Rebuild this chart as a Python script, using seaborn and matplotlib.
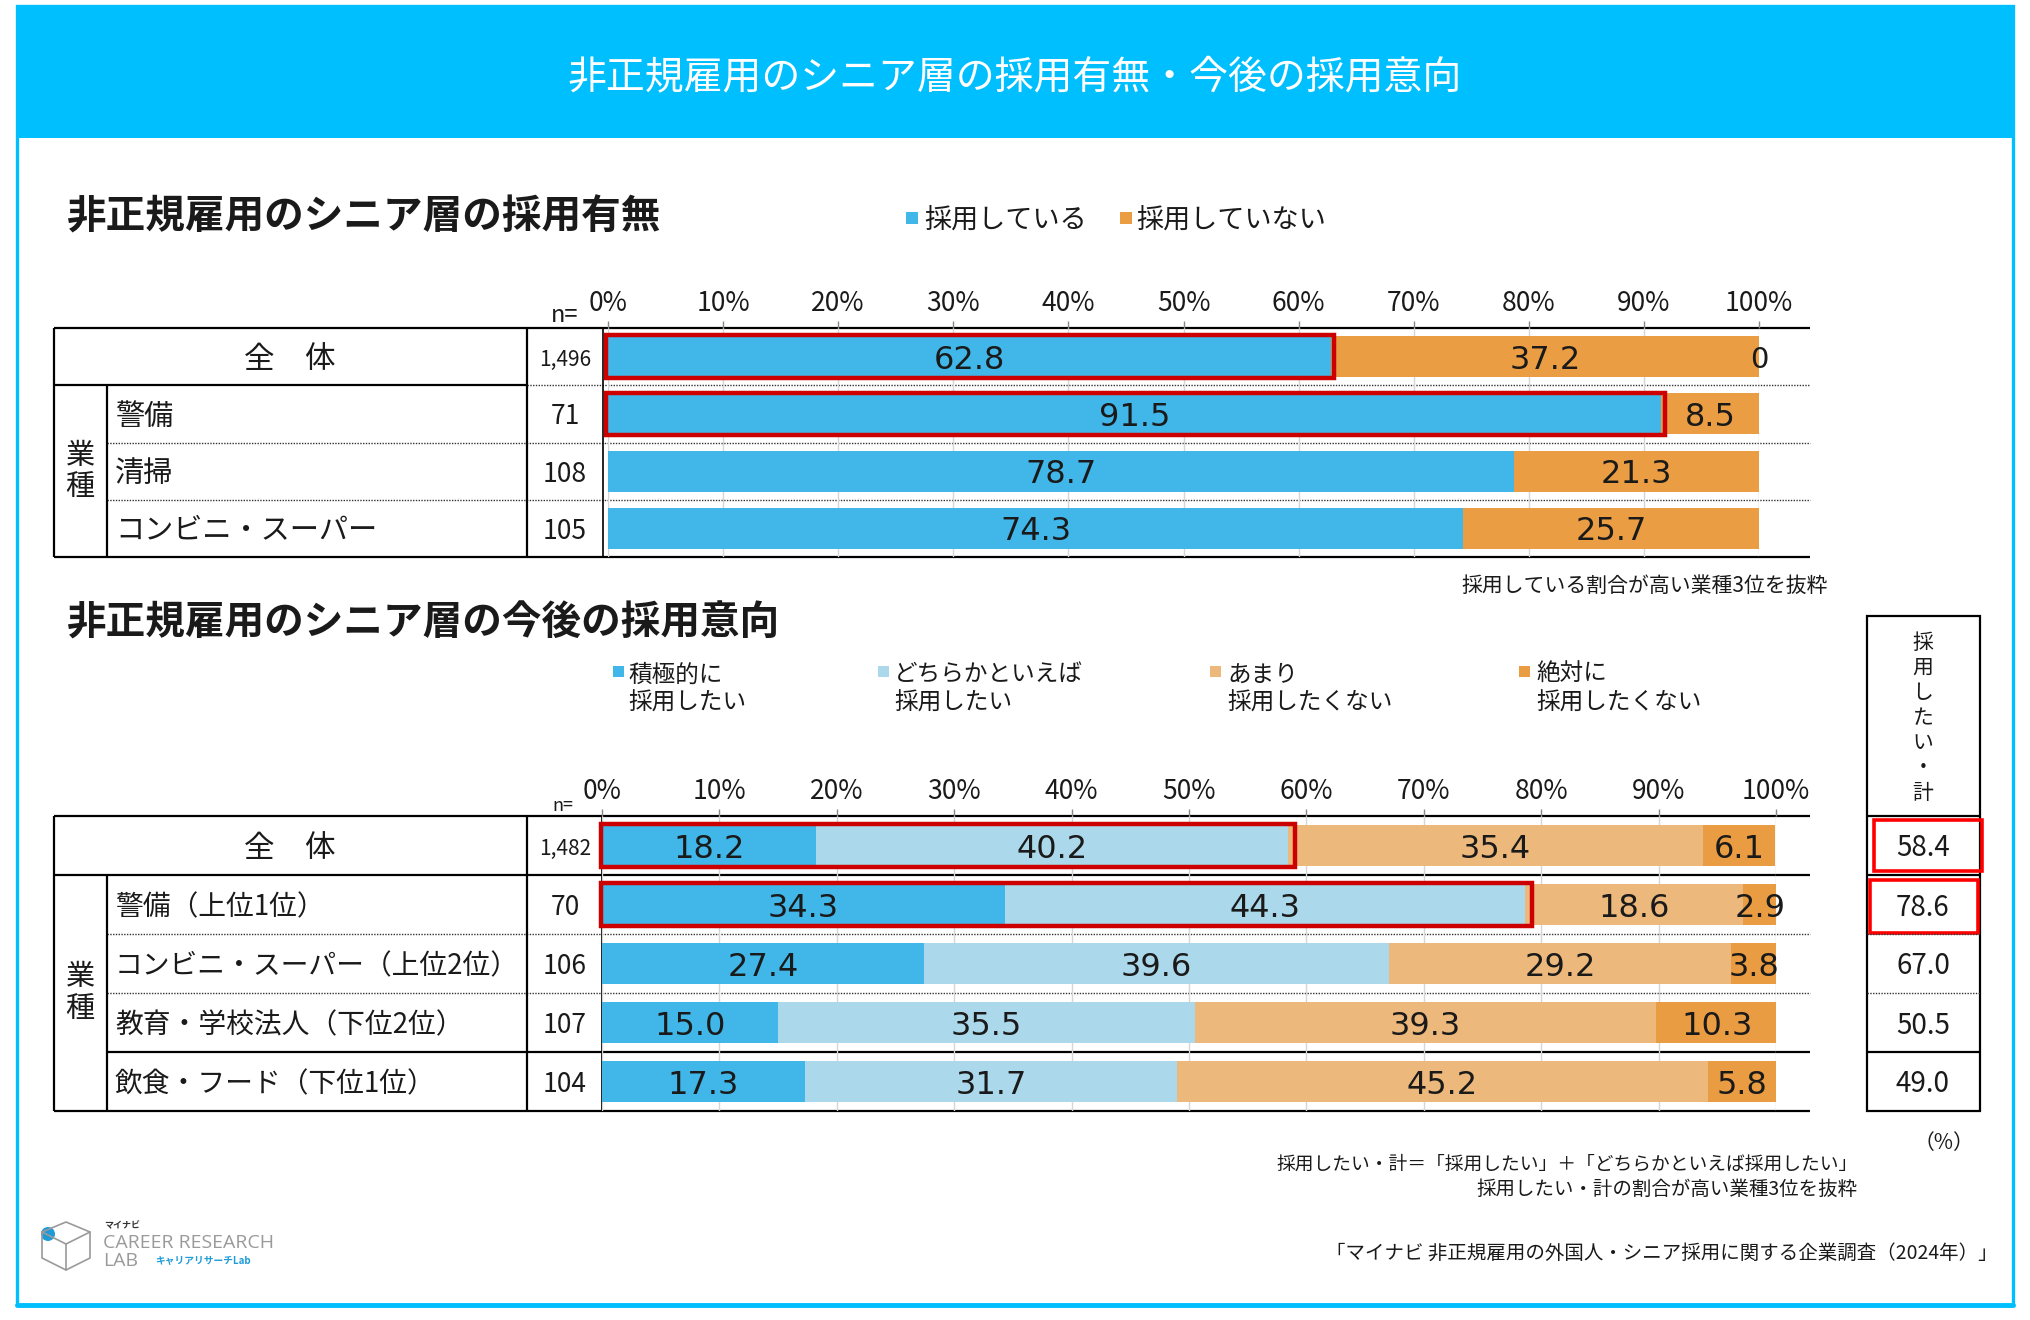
"""非正規雇用のシニア層の採用有無・今後の採用意向 (積み上げ横棒グラフ)"""

import matplotlib
matplotlib.use('Agg')
import matplotlib.pyplot as plt
from matplotlib.patches import Rectangle, Circle
import numpy as np
import pandas as pd
import seaborn as sns

W, H = 2030, 1320

# ---- データ: 採用有無 ----
c1_cats = ['全体', '警備', '清掃', 'コンビニ・スーパー']
c1_labels = ['全　体', '警備', '清掃', 'コンビニ・スーパー']
c1_n = ['1,496', '71', '108', '105']
c1_series = ['採用している', '採用していない']
c1_yes = [62.8, 91.5, 78.7, 74.3]
c1_no = [37.2, 8.5, 21.3, 25.7]
c1_noanswer = [0, None, None, None]

# ---- データ: 今後の採用意向 ----
c2_cats = ['全体', '警備（上位1位）', 'コンビニ・スーパー（上位2位）',
           '教育・学校法人（下位2位）', '飲食・フード（下位1位）']
c2_labels = ['全　体', '警備（上位1位）', 'コンビニ・スーパー（上位2位）',
             '教育・学校法人（下位2位）', '飲食・フード（下位1位）']
c2_n = ['1,482', '70', '106', '107', '104']
c2_series = ['積極的に\n採用したい', 'どちらかといえば\n採用したい',
             'あまり\n採用したくない', '絶対に\n採用したくない']
c2_s1 = [18.2, 34.3, 27.4, 15.0, 17.3]
c2_s2 = [40.2, 44.3, 39.6, 35.5, 31.7]
c2_s3 = [35.4, 18.6, 29.2, 39.3, 45.2]
c2_s4 = [6.1, 2.9, 3.8, 10.3, 5.8]
c2_total = [58.4, 78.6, 67.0, 50.5, 49.0]

x_ticks = list(range(0, 101, 10))

# 色
CYAN = '#00BFFF'
BLUE = '#41B6E8'
ORANGE = '#EB9D43'
LBLUE = '#ABD8EA'
LORANGE = '#ECB87B'
DORANGE = '#EA9C42'
TXT = '#1a1a1a'
DY = 3  # 日本語フォントの縦位置補正(px)

sns.set_theme(style='white')
plt.rcParams['font.family'] = ['Noto Sans CJK JP', 'DejaVu Sans']
plt.rcParams['axes.unicode_minus'] = False

fig = plt.figure(figsize=(W / 100, H / 100), dpi=100)
fig.patch.set_facecolor('white')

# 全体を覆うピクセル座標の軸
ov = fig.add_axes([0, 0, 1, 1])
ov.set_xlim(0, W)
ov.set_ylim(H, 0)
ov.axis('off')
ov.set_zorder(0)


def px_axes(x0, x1, y0, y1):
    ax = fig.add_axes([x0 / W, 1 - y1 / H, (x1 - x0) / W, (y1 - y0) / H])
    ax.set_facecolor('none')
    ax.set_zorder(2)
    return ax


def hline(y, x0, x1, dotted=False, lw=1.6, color='black'):
    if dotted:
        ov.plot([x0, x1], [y, y], color='#333333', lw=1.0, ls=(0, (1, 1)))
    else:
        ov.plot([x0, x1], [y, y], color=color, lw=lw, solid_capstyle='butt')


def vline(x, y0, y1, lw=1.6):
    ov.plot([x, x], [y0, y1], color='black', lw=lw, solid_capstyle='butt')


def stacked(ax, cats, series_vals, colors, width):
    df = pd.DataFrame({k: v for k, v in enumerate(series_vals)}, index=cats)
    cum = df.cumsum(axis=1)
    for k in reversed(range(df.shape[1])):
        sns.barplot(x=cum[k].values, y=cats, orient='h', color=colors[k],
                    width=width, saturation=1, errorbar=None, linewidth=0, ax=ax)
    ax.set_xlim(0, 100)
    ax.set_ylim(len(cats) - 0.5, -0.5)
    ax.set_xticks(x_ticks)
    ax.set_xticklabels([f'{t}%' for t in x_ticks])
    ax.tick_params(axis='x', top=True, bottom=False, labeltop=True, labelbottom=False,
                   length=5, width=1, color='#888888', pad=3, labelsize=19, labelcolor=TXT)
    ax.tick_params(axis='y', left=False, labelleft=False)
    ax.set_xlabel('')
    ax.set_ylabel('')
    ax.set_axisbelow(True)
    ax.xaxis.grid(True, color='#D6D6D6', lw=1.0)
    for s in ax.spines.values():
        s.set_visible(False)
    # 値ラベル
    for i in range(len(cats)):
        left = 0
        for k in range(df.shape[1]):
            v = df.iloc[i, k]
            ax.text(left + v / 2, i + 0.06, f'{v:.1f}', ha='center', va='center',
                    fontsize=23, color=TXT, family=['DejaVu Sans'])
            left += v
    return df


# ---- 枠とヘッダー ----
ov.add_patch(Rectangle((17, 6), 1996, 1299, fill=False, edgecolor=CYAN, lw=2.4))
ov.plot([17, 2013], [1305, 1305], color=CYAN, lw=3.5)
ov.add_patch(Rectangle((17, 6), 1996, 132, facecolor=CYAN, edgecolor='none'))
ov.text(1015, 77, '非正規雇用のシニア層の採用有無・今後の採用意向', ha='center', va='center',
        fontsize=28, color='white')

# ================= 上段: 採用有無 =================
ov.text(67, 217, '非正規雇用のシニア層の採用有無', ha='left', va='center',
        fontsize=28.5, fontweight='bold', color=TXT)
for (sx, tx), name, col in zip([(906, 924), (1120, 1136)], c1_series, [BLUE, ORANGE]):
    ov.add_patch(Rectangle((sx, 212), 12, 12, facecolor=col, edgecolor='none'))
    ov.text(tx, 220, name, ha='left', va='center', fontsize=19.5, color=TXT)

t1, b1 = 328, 557
ax1 = px_axes(608, 1759, t1, b1)
stacked(ax1, c1_cats, [c1_yes, c1_no], [BLUE, ORANGE], 0.72)
ax1.text(100, 0.06, f'{c1_noanswer[0]}', ha='center', va='center', fontsize=21, color=TXT,
         family=['DejaVu Sans'])
# 強調枠
for i in [0, 1]:
    ax1.add_patch(Rectangle((-0.2, i - 0.37), c1_yes[i] + 0.5, 0.74, fill=False,
                            edgecolor='#CC0000', lw=3.2, clip_on=False, zorder=5))

rows1 = np.linspace(t1, b1, len(c1_cats) + 1)
hline(t1, 54, 1810)
hline(b1, 54, 1810)
hline(rows1[1], 54, 527)
hline(rows1[1], 527, 1810, dotted=True)
for y in rows1[2:-1]:
    hline(y, 107, 1810, dotted=True)
vline(54, t1, b1)
vline(107, rows1[1], b1)
vline(527, t1, b1)
vline(603, t1, b1, lw=1.2)
ov.text(565, 316, 'n=', ha='center', va='center', fontsize=17, color=TXT)
for i in range(len(c1_cats)):
    yc = (rows1[i] + rows1[i + 1]) / 2 + DY
    if i == 0:
        ov.text(290, yc, c1_labels[i], ha='center', va='center', fontsize=22, color=TXT)
        ov.text(565, yc, c1_n[i], ha='center', va='center', fontsize=15, color=TXT)
    else:
        ov.text(115, yc, c1_labels[i], ha='left', va='center', fontsize=21, color=TXT)
        ov.text(565, yc, c1_n[i], ha='center', va='center', fontsize=19, color=TXT)
ov.text(80, (rows1[1] + b1) / 2, '業\n種', ha='center', va='center', fontsize=21,
        linespacing=1.05, color=TXT)
ov.text(1828, 586, '採用している割合が高い業種3位を抜粋', ha='right', va='center',
        fontsize=15, color=TXT)

# ================= 下段: 今後の採用意向 =================
ov.text(67, 623, '非正規雇用のシニア層の今後の採用意向', ha='left', va='center',
        fontsize=28.5, fontweight='bold', color=TXT)
for (sx, tx), name, col in zip([(613, 628), (878, 894), (1210, 1227), (1519, 1536)],
                               c2_series, [BLUE, LBLUE, LORANGE, DORANGE]):
    ov.add_patch(Rectangle((sx, 666), 11, 11, facecolor=col, edgecolor='none'))
    ov.text(tx, 689, name, ha='left', va='center', fontsize=17, color=TXT,
            linespacing=1.3)

t2, b2 = 816, 1111
ax2 = px_axes(602, 1776, t2, b2)
stacked(ax2, c2_cats, [c2_s1, c2_s2, c2_s3, c2_s4], [BLUE, LBLUE, LORANGE, DORANGE], 0.7)
for i in [0, 1]:
    ax2.add_patch(Rectangle((-0.1, i - 0.37), c2_total[i] + 0.7, 0.74, fill=False,
                            edgecolor='#CC0000', lw=3.2, clip_on=False, zorder=5))

rows2 = np.linspace(t2, b2, len(c2_cats) + 1)
hline(t2, 54, 1810)
hline(b2, 54, 1810)
hline(rows2[1], 54, 1810)
hline(rows2[2], 107, 1810, dotted=True)
hline(rows2[3], 107, 1810, dotted=True)
hline(rows2[4], 107, 1810)
vline(54, t2, b2)
vline(107, rows2[1], b2)
vline(527, t2, b2)
vline(602, t2, b2, lw=1.2)
ov.text(563, 806, 'n=', ha='center', va='center', fontsize=13, color=TXT)
for i in range(len(c2_cats)):
    yc = (rows2[i] + rows2[i + 1]) / 2 + DY
    if i == 0:
        ov.text(290, yc, c2_labels[i], ha='center', va='center', fontsize=22, color=TXT)
        ov.text(565, yc, c2_n[i], ha='center', va='center', fontsize=15, color=TXT)
    else:
        ov.text(115, yc, c2_labels[i], ha='left', va='center', fontsize=20, color=TXT)
        ov.text(565, yc, c2_n[i], ha='center', va='center', fontsize=19, color=TXT)
ov.text(80, (rows2[1] + b2) / 2, '業\n種', ha='center', va='center', fontsize=21,
        linespacing=1.05, color=TXT)

# 採用したい・計 の表
ov.add_patch(Rectangle((1867, 616), 113, b2 - 616, fill=False, edgecolor='black', lw=1.6))
hline(t2, 1867, 1980)
hline(rows2[1], 1867, 1980)
hline(rows2[2], 1867, 1980, dotted=True)
hline(rows2[3], 1867, 1980, dotted=True)
hline(rows2[4], 1867, 1980)
ov.text(1923, 718, '採\n用\nし\nた\nい\n・\n計', ha='center', va='center', fontsize=15,
        linespacing=1.18, color=TXT)
for i, v in enumerate(c2_total):
    yc = (rows2[i] + rows2[i + 1]) / 2
    ov.text(1923, yc + 3, f'{v:.1f}', ha='center', va='center', fontsize=20, color=TXT)
ov.add_patch(Rectangle((1874, 820), 108, 51, fill=False, edgecolor='#FF0000', lw=2.6))
ov.add_patch(Rectangle((1870, 880), 108, 53, fill=False, edgecolor='#FF0000', lw=2.6))

# ---- 注記 ----
ov.text(1974, 1143, '（%）', ha='right', va='center', fontsize=15, color=TXT)
ov.text(1858, 1164, '採用したい・計＝「採用したい」＋「どちらかといえば採用したい」',
        ha='right', va='center', fontsize=13.5, color=TXT)
ov.text(1858, 1189, '採用したい・計の割合が高い業種3位を抜粋', ha='right', va='center',
        fontsize=14, color=TXT)
ov.text(1998, 1253, '「マイナビ 非正規雇用の外国人・シニア採用に関する企業調査（2024年）」',
        ha='right', va='center', fontsize=14, color=TXT)

# ---- ロゴ ----
ov.plot([42, 42, 66, 66, 42], [1232, 1258, 1270, 1244, 1232], color='#9A9A9A', lw=1.2)
ov.plot([66, 90, 90, 66], [1244, 1232, 1258, 1270], color='#9A9A9A', lw=1.2)
ov.plot([42, 66, 90], [1232, 1222, 1232], color='#9A9A9A', lw=1.2)
ov.add_patch(Circle((48, 1234), 7, facecolor='#1E9BD7', edgecolor='none'))
ov.text(104, 1226, 'マイナビ', ha='left', va='center', fontsize=6.5, fontweight='bold',
        color='#333333')
ov.text(103, 1243, 'CAREER RESEARCH', ha='left', va='center', fontsize=14,
        color='#9A9A9A', family=['Open Sans', 'DejaVu Sans'])
ov.text(103, 1261, 'LAB', ha='left', va='center', fontsize=14, color='#9A9A9A',
        family=['Open Sans', 'DejaVu Sans'])
ov.text(155, 1261, 'キャリアリサーチLab', ha='left', va='center', fontsize=7,
        fontweight='bold', color='#1E9BD7')

fig.savefig('out.png', dpi=100)
plt.close(fig)
